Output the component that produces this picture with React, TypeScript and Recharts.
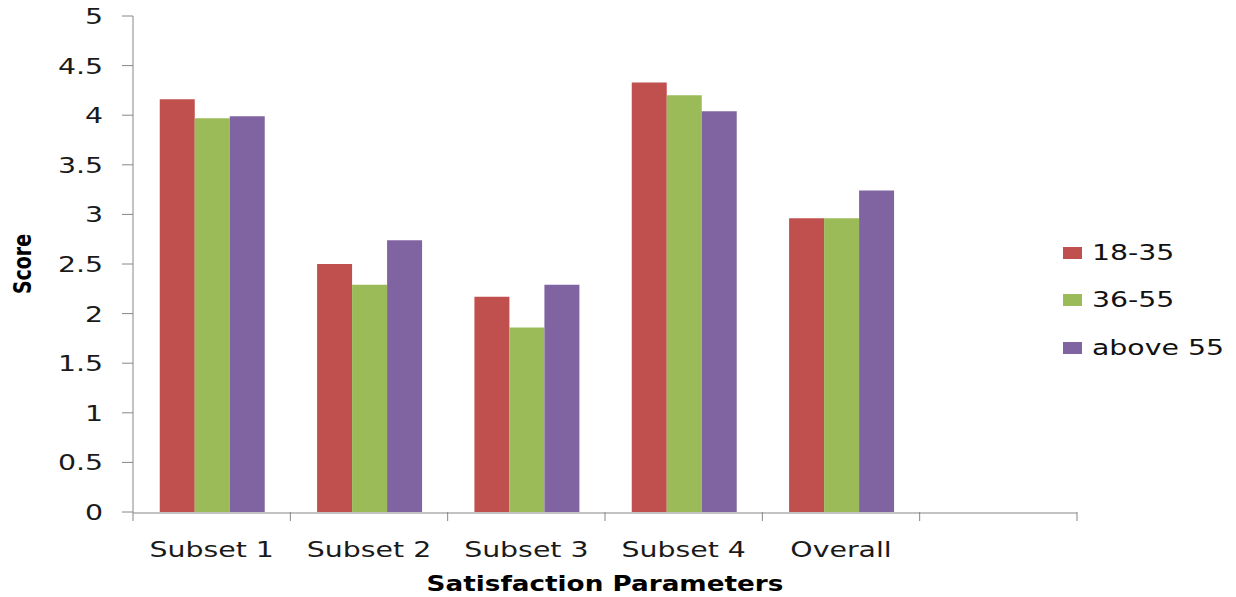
import React from 'react';
import { BarChart, Bar, XAxis, YAxis, Legend, Label } from 'recharts';

const categories = ['Subset 1', 'Subset 2', 'Subset 3', 'Subset 4', 'Overall', ''];
const age18to35 = [4.16, 2.5, 2.17, 4.33, 2.96, null];
const age36to55 = [3.97, 2.29, 1.86, 4.2, 2.96, null];
const ageAbove55 = [3.99, 2.74, 2.29, 4.04, 3.24, null];
const yTicks = [0, 0.5, 1, 1.5, 2, 2.5, 3, 3.5, 4, 4.5, 5];
const edgeTicks = [0, 1, 2, 3, 4, 5, 6];

const series = [
  { key: 'g1', name: '18-35', color: '#C0504D' },
  { key: 'g2', name: '36-55', color: '#9BBB59' },
  { key: 'g3', name: 'above 55', color: '#8064A2' },
];

// pos = category centre on a 0..N scale, used by the boundary-tick axis
const data = categories.map((name, i) => ({
  name,
  pos: i + 0.5,
  g1: age18to35[i],
  g2: age36to55[i],
  g3: ageAbove55[i],
}));

const FONT = '"DejaVu Sans", sans-serif';
const AXIS = '#868686';
const STRETCH = 1.29;

const YTick: React.FC<any> = ({ x, y, payload }) => (
  <g transform={`translate(${x},${y})`}>
    <text transform={`scale(${STRETCH},1)`} textAnchor="end" dy="0.36em" fontSize={22} fontFamily={FONT} fill="#1a1a1a">
      {String(payload.value)}
    </text>
  </g>
);

const XTick: React.FC<any> = ({ x, y, payload }) => (
  <g transform={`translate(${x},${y})`}>
    <text transform={`scale(${STRETCH},1)`} textAnchor="middle" dy={36} fontSize={22} fontFamily={FONT} fill="#1a1a1a">
      {payload.value}
    </text>
  </g>
);

// boundary ticks between categories: tick line only, no label
const EdgeTick: React.FC<any> = () => <g />;

const LegendBox: React.FC<any> = () => (
  <div style={{ fontFamily: FONT, fontSize: 21, color: '#111' }}>
    {series.map((s) => (
      <div key={s.key} style={{ display: 'flex', alignItems: 'center', height: 47.5 }}>
        <span style={{ display: 'inline-block', width: 19, height: 12, background: s.color, marginRight: 10 }} />
        <span style={{ display: 'inline-block', transform: 'scale(1.35,1)', transformOrigin: 'left center', whiteSpace: 'nowrap' }}>
          {s.name}
        </span>
      </div>
    ))}
  </div>
);

const ScoreLabel: React.FC<any> = ({ viewBox }) => {
  const cy = viewBox.y + viewBox.height / 2;
  return (
    <text
      transform={`translate(22,${cy}) scale(${STRETCH},1) rotate(-90)`}
      textAnchor="middle"
      dy="0.35em"
      fontSize={19}
      fontWeight="bold"
      fontFamily={FONT}
      fill="#000"
    >
      Score
    </text>
  );
};

const XTitle: React.FC<any> = ({ viewBox }) => {
  const cx = viewBox.x + viewBox.width / 2;
  return (
    <text
      transform={`translate(${cx},591) scale(1.25,1)`}
      textAnchor="middle"
      fontSize={21}
      fontWeight="bold"
      fontFamily={FONT}
      fill="#000"
    >
      Satisfaction Parameters
    </text>
  );
};

export default function App() {
  return (
    <div style={{ position: 'absolute', left: 0, top: 0, background: '#fff' }}>
      <BarChart
        width={1236}
        height={597}
        data={data}
        margin={{ top: 16, right: 159, bottom: 0, left: 0 }}
        barCategoryGap="17%"
        barGap={0}
      >
        <XAxis
          xAxisId="a-edge"
          dataKey="pos"
          type="number"
          domain={[0, categories.length]}
          allowDataOverflow
          ticks={edgeTicks}
          tick={<EdgeTick />}
          axisLine={false}
          tickLine={{ stroke: AXIS }}
          tickSize={9}
          height={1}
        />
        <XAxis
          xAxisId="b-cat"
          dataKey="name"
          height={84}
          axisLine={{ stroke: AXIS }}
          tickLine={false}
          tick={<XTick />}
          interval={0}
        >
          <Label content={<XTitle />} />
        </XAxis>
        <YAxis
          width={133}
          domain={[0, 5]}
          ticks={yTicks}
          axisLine={{ stroke: AXIS }}
          tickLine={{ stroke: AXIS }}
          tickSize={11}
          tickMargin={19}
          tick={<YTick />}
          interval={0}
        >
          <Label content={<ScoreLabel />} />
        </YAxis>
        <Legend
          layout="vertical"
          align="center"
          verticalAlign="middle"
          content={<LegendBox />}
          wrapperStyle={{ left: 1063, top: 229, width: 173, height: 143 }}
        />
        {series.map((s) => (
          <Bar key={s.key} xAxisId="b-cat" dataKey={s.key} name={s.name} fill={s.color} isAnimationActive={false} />
        ))}
      </BarChart>
    </div>
  );
}
